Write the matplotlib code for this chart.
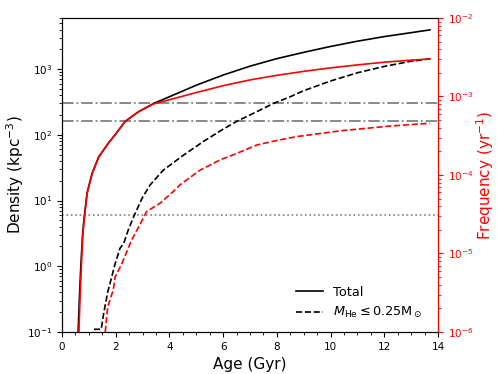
import matplotlib
matplotlib.use("Agg")
import matplotlib.pyplot as plt
from matplotlib.ticker import AutoMinorLocator

# Data (density, kpc^-3)
age_total = [0.60, 0.645, 0.70, 0.77, 0.83, 0.93, 1.12, 1.37, 1.74, 2.0, 2.35, 2.85, 3.41, 4.0, 5.0, 6.0, 7.0, 8.0, 9.0, 10.0, 11.0, 12.0, 13.0, 13.7]
dens_total = [0.1, 0.31, 1.0, 3.2, 5.7, 12.9, 26, 46.6, 76, 103, 160, 225, 300, 380, 569, 813, 1109, 1445, 1800, 2213, 2661, 3126, 3589, 3955]

age_total_red = [0.63, 0.67, 0.72, 0.78, 0.84, 0.94, 1.13, 1.38, 1.74, 2.0, 2.35, 2.85, 3.41, 4.1, 5.0, 6.0, 7.0, 8.0, 9.0, 10.0, 11.0, 12.0, 13.0, 13.7]
freq_total = [0.1, 0.31, 1.0, 3.2, 5.7, 12.9, 26, 46.6, 76, 103, 160, 225, 295, 351, 440, 560, 685, 805, 925, 1045, 1160, 1275, 1370, 1430]

age_low = [1.19, 1.46, 1.55, 1.70, 1.98, 2.16, 2.30, 2.47, 2.67, 2.98, 3.28, 3.77, 4.52, 5.26, 6.0, 6.5, 7.25, 7.87, 8.5, 9.0, 10.0, 11.0, 12.0, 13.0, 13.7]
dens_low = [0.11, 0.11, 0.19, 0.40, 1.1, 1.88, 2.24, 3.6, 5.7, 10.8, 17.3, 29, 49, 79, 122, 160, 225, 300, 380, 470, 660, 880, 1100, 1320, 1430]

age_low_red = [1.61, 1.70, 1.91, 1.98, 2.23, 2.59, 2.9, 3.15, 3.34, 3.65, 4.14, 4.39, 5.14, 5.88, 6.5, 7.25, 7.99, 8.74, 10.35, 12.21, 13.7]
freq_low = [0.1, 0.24, 0.44, 0.69, 1.1, 2.5, 4.3, 6.8, 7.6, 9.1, 13.7, 17.3, 29, 41.5, 52, 70, 82, 94, 115, 136, 150]

hlines_dashdot = [300, 160]
hline_dotted = 6

fig = plt.figure(figsize=(4.98, 3.74), dpi=100)
ax = fig.add_axes([0.1245, 0.1123, 0.755, 0.8396])

for y in hlines_dashdot:
    ax.axhline(y, color='gray', ls='-.', lw=1.3)
ax.axhline(hline_dotted, color='gray', ls=':', lw=1.2)

ax.plot(age_total, dens_total, color='black', lw=1.2, label='Total')
ax.plot(age_low, dens_low, color='black', ls='--', lw=1.2, label=r'$M_{\rm He}\leq0.25{\rm M}_\odot$')
ax.plot(age_total_red, freq_total, color='red', lw=1.2)
ax.plot(age_low_red, freq_low, color='red', ls='--', lw=1.2)

ax.set_yscale('log')
ax.set_xlim(0, 14)
ax.set_ylim(0.1, 6000)
ax.xaxis.set_minor_locator(AutoMinorLocator(4))
ax.tick_params(labelsize=7.5)
ax.set_xlabel('Age (Gyr)', fontsize=11)
ax.set_ylabel(r'Density (kpc$^{-3}$)', fontsize=11, labelpad=1)
ax.legend(loc='lower right', frameon=False, fontsize=9.3, handlelength=2.1,
          bbox_to_anchor=(0.99, 0.0))

ax2 = ax.twinx()
ax2.set_yscale('log')
ax2.set_ylim(1e-6, 1e-2)
ax2.spines['right'].set_color('red')
ax2.tick_params(axis='y', which='both', colors='red', labelsize=7.5)
ax2.set_ylabel(r'Frequency (yr$^{-1}$)', color='red', fontsize=11, labelpad=1)

fig.savefig('out.png', dpi=100)
